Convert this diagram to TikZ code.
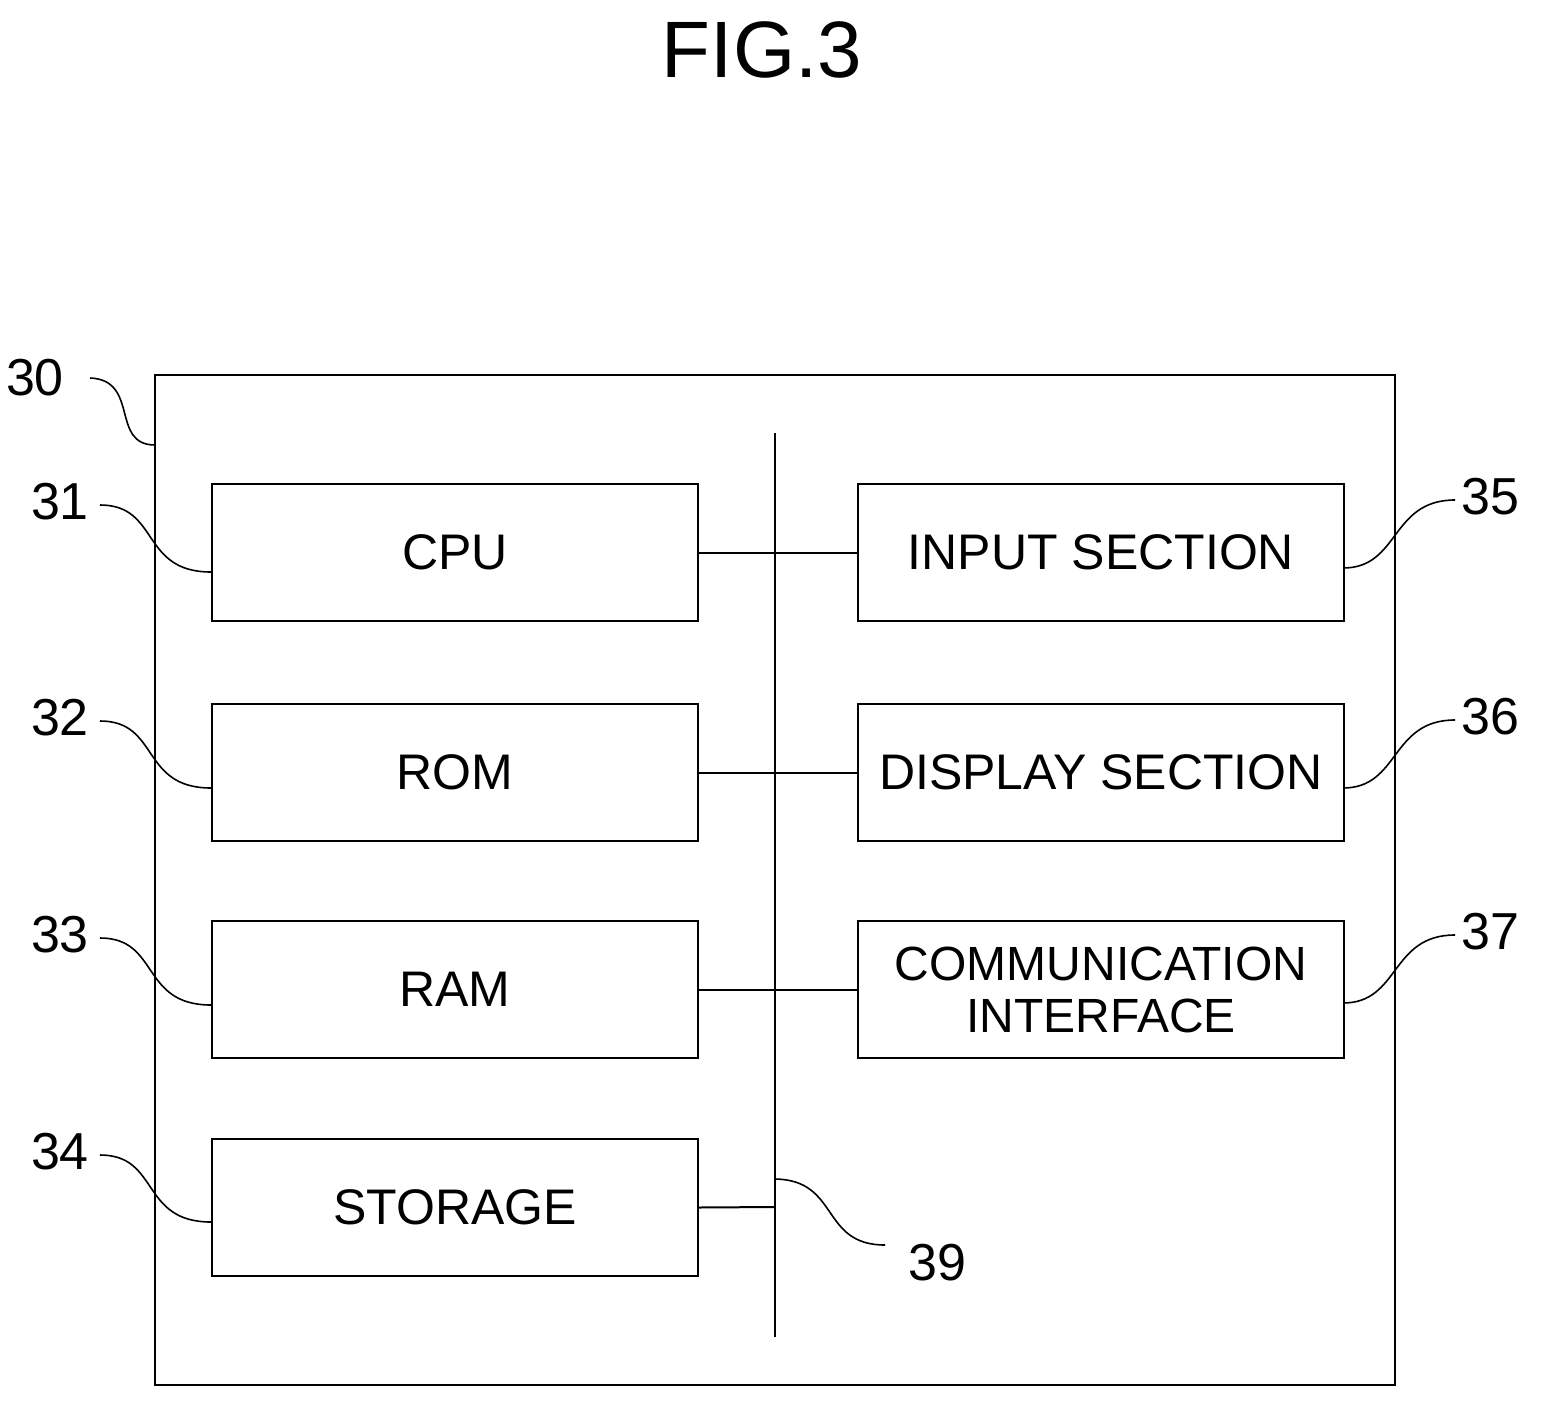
\documentclass[tikz,border=0pt]{standalone}
\usepackage{fontspec}
\setmainfont{Liberation Sans}
\begin{document}
\begin{tikzpicture}[x=1pt,y=-1pt,line width=2pt,
 box/.style={draw,minimum width=486pt,minimum height=137pt,anchor=north west,inner sep=0pt,align=center,font=\fontsize{50}{54}\selectfont},
 num/.style={font=\fontsize{52}{54}\selectfont,inner sep=0pt},
 lead/.style={line width=1.6pt}]
\useasboundingbox (0,0) rectangle (1541,1407);
\node[font=\fontsize{80}{84}\selectfont,inner sep=0pt] (t) at (762,50) {FIG.3};
\draw (155,375) rectangle (1395,1385);
\coordinate (b1) at (775,433); \coordinate (b2) at (775,1337);
\draw (b1) -- (b2);
\node[box] (cpu) at (211,483) {CPU};
\node[box] (rom) at (211,703) {ROM};
\node[box] (ram) at (211,920) {RAM};
\node[box] (sto) at (211,1138) {STORAGE};
\node[box] (inp) at (857,483) {INPUT SECTION};
\node[box] (dis) at (857,703) {DISPLAY SECTION};
\node[box,font=\fontsize{48}{52}\selectfont] (com) at (857,920) {COMMUNICATION\\INTERFACE};
\draw (cpu.east) -- (inp.west);
\draw (rom.east) -- (dis.west);
\draw (ram.east) -- (com.west);
\coordinate (bs) at (775,1207);
\draw (sto.east) -- (bs);
\node[num] (n30) at (35,378) {30};
\node[num] (n31) at (60,502) {31};
\node[num] (n32) at (60,718) {32};
\node[num] (n33) at (60,935) {33};
\node[num] (n34) at (60,1152) {34};
\node[num] (n35) at (1490,497) {35};
\node[num] (n36) at (1490,717) {36};
\node[num] (n37) at (1490,932) {37};
\node[num] (n39) at (937,1263) {39};
\coordinate (c30) at (155,445);
\draw[lead] (90,378) .. controls (140,380) and (110,445) .. (c30);
\draw[lead] (100,505) .. controls (160,505) and (140,572) .. (cpu.south west |- 0,572);
\draw[lead] (100,721) .. controls (160,721) and (140,788) .. (211,788);
\draw[lead] (100,938) .. controls (160,938) and (140,1005) .. (211,1005);
\draw[lead] (100,1155) .. controls (160,1155) and (140,1222) .. (211,1222);
\draw[lead] (1343,568) .. controls (1400,568) and (1390,500) .. (1455,500);
\draw[lead] (1343,788) .. controls (1400,788) and (1390,720) .. (1455,720);
\draw[lead] (1343,1003) .. controls (1400,1003) and (1390,935) .. (1455,935);
\draw[lead] (bs) ++(0,-28) coordinate (bq) (bq) .. controls (840,1180) and (820,1245) .. (885,1245);
\end{tikzpicture}
\end{document}
